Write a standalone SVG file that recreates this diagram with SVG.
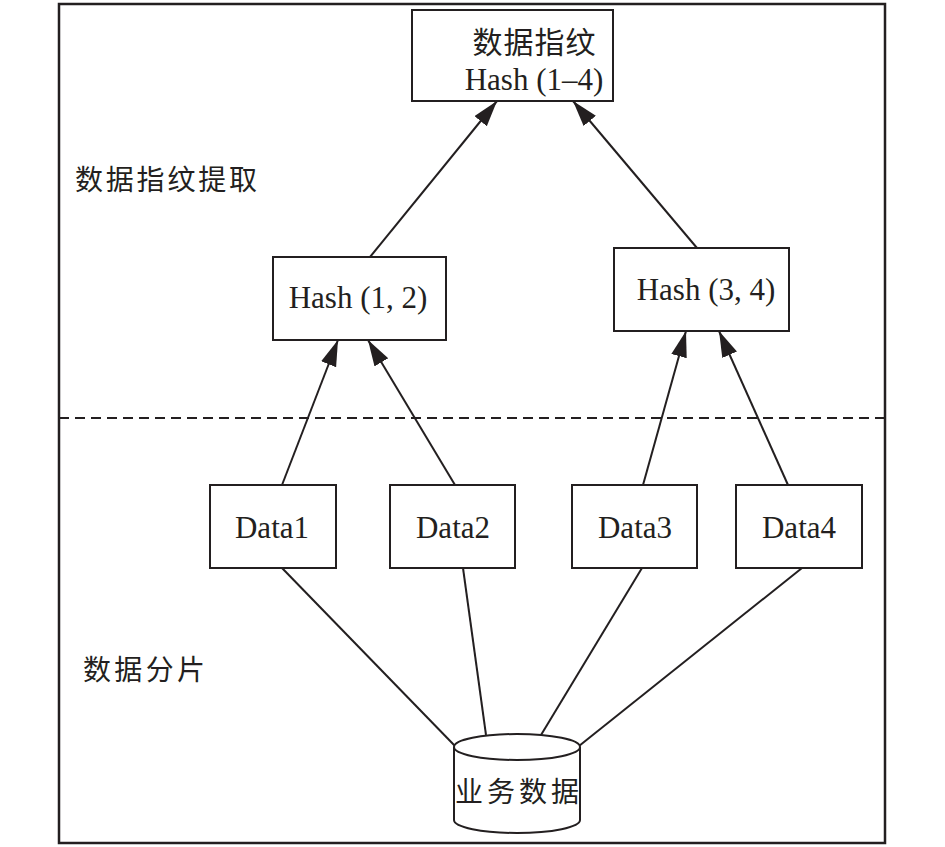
<svg xmlns="http://www.w3.org/2000/svg" width="945" height="847" viewBox="0 0 945 847">
<style>
.box{fill:#fff;stroke:#231f20;stroke-width:2}
.ln{stroke:#231f20;stroke-width:2;fill:none}
.en{font-family:"Liberation Serif","Times New Roman",serif;font-size:31px;fill:#231f20;text-anchor:middle}
.cn{font-family:"Noto Sans CJK SC",sans-serif;font-size:28px;fill:#231f20}
</style>
<defs>
<marker id="arr" markerUnits="userSpaceOnUse" markerWidth="28" markerHeight="18" refX="26" refY="8" orient="auto">
<path d="M0,0 L26,8 L0,16 Z" fill="#231f20"/>
</marker>
</defs>
<rect x="59" y="4" width="826" height="839" fill="#fff" stroke="#231f20" stroke-width="2.5"/>
<line x1="59" y1="418" x2="885" y2="418" stroke="#231f20" stroke-width="2" stroke-dasharray="10,6"/>
<text class="cn" x="75" y="190" textLength="182">数据指纹提取</text>
<text class="cn" x="83" y="680" textLength="122">数据分片</text>
<g id="connectors">
<line class="ln" x1="370" y1="257" x2="497" y2="101" marker-end="url(#arr)"/>
<line class="ln" x1="697" y1="248" x2="573" y2="101" marker-end="url(#arr)"/>
<line class="ln" x1="282" y1="485" x2="338" y2="340" marker-end="url(#arr)"/>
<line class="ln" x1="455" y1="485" x2="368" y2="340" marker-end="url(#arr)"/>
<line class="ln" x1="643" y1="485" x2="686" y2="331" marker-end="url(#arr)"/>
<line class="ln" x1="788" y1="485" x2="719" y2="331" marker-end="url(#arr)"/>
<line class="ln" x1="282" y1="568" x2="455" y2="746"/>
<line class="ln" x1="463" y1="568" x2="486" y2="735"/>
<line class="ln" x1="642" y1="568" x2="541" y2="735"/>
<line class="ln" x1="802" y1="568" x2="579" y2="746"/>
</g>
<g id="fingerprint">
<rect class="box" x="412" y="10" width="201" height="91"/>
<text class="cn" x="534" y="53" text-anchor="middle" textLength="123" style="font-size:30px">数据指纹</text>
<text class="en" x="534" y="90">Hash (1–4)</text>
</g>
<g id="hash12">
<rect class="box" x="273" y="257" width="173" height="83"/>
<text class="en" x="358" y="308">Hash (1, 2)</text>
</g>
<g id="hash34">
<rect class="box" x="614" y="248" width="175" height="83"/>
<text class="en" x="706" y="300">Hash (3, 4)</text>
</g>
<g id="data1">
<rect class="box" x="210" y="485" width="126" height="83"/>
<text class="en" x="272" y="538">Data1</text>
</g>
<g id="data2">
<rect class="box" x="390" y="485" width="125" height="83"/>
<text class="en" x="453" y="538">Data2</text>
</g>
<g id="data3">
<rect class="box" x="572" y="485" width="125" height="83"/>
<text class="en" x="635" y="538">Data3</text>
</g>
<g id="data4">
<rect class="box" x="736" y="485" width="126" height="83"/>
<text class="en" x="799" y="538">Data4</text>
</g>
<g id="business-data">
<path class="box" d="M454,747 L454,820 A63,13 0 0 0 580,820 L580,747 A63,13 0 0 0 454,747 Z"/>
<path class="ln" d="M454,747 A63,13 0 0 0 580,747"/>
<text class="cn" x="517" y="802" text-anchor="middle" textLength="124">业务数据</text>
</g>
</svg>
